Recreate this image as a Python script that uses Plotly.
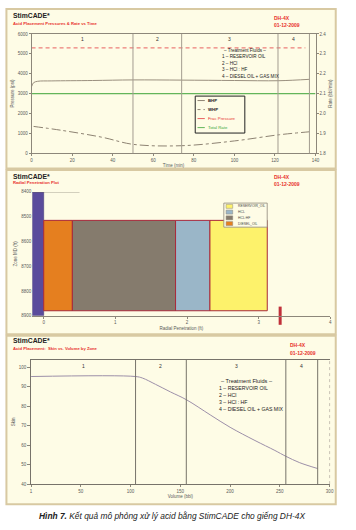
import plotly.graph_objects as go

W, H = 356, 530


def px(x):
    return x / W


def py(y):
    return 1 - y / H


# ---------------- Panel 1 data: pressures & rate vs time ----------------
zone_time_bounds = [50, 74, 121.5, 137]
zone_names = ["1", "2", "3", "4"]
bhp_time = [0, 1, 3, 10, 30, 50, 74, 100, 122, 137]
bhp_psi = [3350, 3550, 3620, 3640, 3660, 3690, 3680, 3660, 3650, 3720]
whp_time = [1, 15, 35, 50, 74, 100, 122, 137]
whp_psi = [1350, 1150, 800, 450, 380, 620, 930, 1080]
frac_time = [0, 135]
frac_psi = [5300, 5300]
rate_time = [0, 140]
rate_bpm = [2.1, 2.1]
time_ticks = [0, 20, 40, 60, 80, 100, 120, 140]
psi_ticks = [0, 1000, 2000, 3000, 4000, 5000, 6000]
rate_ticks = [1.8, 1.9, 2.0, 2.1, 2.2, 2.3, 2.4]

# ---------------- Panel 2 data: radial penetration ----------------
fluid_names = ["DIESEL_OIL", "HCL:HF", "HCL", "RESERVOIR_OIL"]
fluid_outer_ft = [0.40, 1.84, 2.32, 3.12]
fluid_colors = ["#e57f1f", "#857b6d", "#9ab6c8", "#fdf26b"]
zone_top_md = 8515
zone_bottom_md = 8880
wellbore_radius_ft = 0.16
wellbore_top_md = 8400
wellbore_bottom_md = 8900
top_line_ft = [-0.16, 0.5]
marker_ft = [3.3]
pen_ticks = [0, 1, 2, 3, 4]
md_ticks = [8400, 8500, 8600, 8700, 8800, 8900]

# ---------------- Panel 3 data: skin vs volume ----------------
zone_vol_bounds = [105, 156, 256, 288]
vol_bbl = [0, 105, 112, 125, 140, 156, 180, 200, 225, 245, 256, 270, 288]
skin = [95.3, 95.3, 94.5, 91.3, 87.4, 83.4, 75.6, 69.2, 62.4, 57.3, 54.3, 51.0, 48.0]
vol_ticks = [0, 50, 100, 150, 200, 250, 300]
vol_ticktext = ["1", "50", "100", "150", "200", "250", "300"]
skin_ticks = [40, 50, 60, 70, 80, 90, 100]

fluids_text = ["– Treatment Fluids –", "1 – RESERVOIR OIL", "2 – HCl",
               "3 – HCl : HF", "4 – DIESEL OIL + GAS MIX"]

RED = "#e8322c"
AXC = "#8d877a"
TXT = "#5a5a5a"
BG = "#fefce6"
BORDER = "#d8c9a2"
FONT = "Liberation Sans, Arial, sans-serif"

fig = go.Figure()

# Panel 1 traces
fig.add_trace(go.Scatter(x=frac_time, y=frac_psi, mode="lines",
                         line=dict(color="#e86060", width=1, dash="4px,3px"),
                         xaxis="x", yaxis="y", showlegend=False))
fig.add_trace(go.Scatter(x=rate_time, y=rate_bpm, mode="lines",
                         line=dict(color="#63b55a", width=1.2),
                         xaxis="x", yaxis="y2", showlegend=False))
fig.add_trace(go.Scatter(x=bhp_time, y=bhp_psi, mode="lines", line_shape="spline",
                         line=dict(color="#9a8f7e", width=1),
                         xaxis="x", yaxis="y", showlegend=False))
fig.add_trace(go.Scatter(x=whp_time, y=whp_psi, mode="lines", line_shape="spline",
                         line=dict(color="#8d8272", width=1, dash="dashdot"),
                         xaxis="x", yaxis="y", showlegend=False))

# Panel 2 traces
fig.add_trace(go.Bar(y=[(wellbore_top_md + wellbore_bottom_md) / 2],
                     x=[wellbore_radius_ft], base=[-wellbore_radius_ft],
                     width=[wellbore_bottom_md - wellbore_top_md], orientation="h",
                     marker=dict(color="#5a4b9c", line=dict(color="#3d3270", width=0.5)),
                     xaxis="x2", yaxis="y3", showlegend=False))
inner = 0
for name, outer, col in zip(fluid_names, fluid_outer_ft, fluid_colors):
    fig.add_trace(go.Bar(y=[(zone_top_md + zone_bottom_md) / 2], x=[outer - inner],
                         base=[inner], width=[zone_bottom_md - zone_top_md],
                         orientation="h", name=name,
                         marker=dict(color=col, line=dict(color="#a8283a", width=1)),
                         xaxis="x2", yaxis="y3", showlegend=False))
    inner = outer
fig.add_trace(go.Scatter(x=top_line_ft, y=[wellbore_top_md] * 2, mode="lines",
                         line=dict(color="#777066", width=0.8),
                         xaxis="x2", yaxis="y3", showlegend=False))
fig.add_trace(go.Scatter(x=marker_ft, y=[wellbore_bottom_md], mode="markers",
                         cliponaxis=False,
                         marker=dict(symbol="line-ns", size=13,
                                     line=dict(color="#c0303a", width=3)),
                         xaxis="x2", yaxis="y3", showlegend=False))

# Panel 3 traces
fig.add_trace(go.Scatter(x=vol_bbl, y=skin, mode="lines", line_shape="spline",
                         line=dict(color="#9c8fa8", width=1),
                         xaxis="x3", yaxis="y4", showlegend=False))

tickf = dict(family=FONT, size=4.5, color=TXT)
titlef = dict(family=FONT, size=4.5, color=TXT)

fig.update_layout(
    width=W, height=H, margin=dict(l=0, r=0, t=0, b=0),
    paper_bgcolor="white", plot_bgcolor="rgba(0,0,0,0)",
    font=dict(family=FONT, color=TXT), barmode="overlay", showlegend=False,
    xaxis=dict(domain=[px(31), px(319)], range=[0, 140], anchor="y",
               tickvals=time_ticks, ticks="outside", ticklen=2, tickcolor=AXC,
               showline=True, linecolor=AXC, linewidth=1, mirror=True,
               showgrid=False, zeroline=False, tickfont=tickf,
               title=dict(text="Time (min)", font=titlef, standoff=2)),
    yaxis=dict(domain=[py(152.7), py(32.3)], range=[0, 6000], anchor="x",
               tickvals=psi_ticks, ticks="outside", ticklen=2, tickcolor=AXC,
               showline=True, linecolor=AXC, linewidth=1,
               showgrid=False, zeroline=False, tickfont=tickf,
               title=dict(text="Pressure (psi)", font=titlef, standoff=3)),
    yaxis2=dict(overlaying="y", side="right", anchor="x", range=[1.8, 2.4],
                tickvals=rate_ticks, tickformat=".1f", ticks="outside", ticklen=2,
                tickcolor=AXC, showline=True, linecolor=AXC, linewidth=1,
                showgrid=False, zeroline=False, tickfont=tickf,
                title=dict(text="Rate (bbl/min)", font=titlef, standoff=3)),
    xaxis2=dict(domain=[px(31.7), px(334)], range=[-0.16, 4.0], anchor="y3",
                tickvals=pen_ticks, ticks="outside", ticklen=2, tickcolor=AXC,
                showline=True, linecolor=AXC, linewidth=1,
                showgrid=False, zeroline=False, tickfont=tickf,
                title=dict(text="Radial Penetration (ft)", font=titlef, standoff=2)),
    yaxis3=dict(domain=[py(316.7), py(191.7)], range=[8900, 8400], anchor="x2",
                tickvals=md_ticks, ticks="", showline=False,
                showgrid=False, zeroline=False, tickfont=tickf,
                title=dict(text="Zone MD (ft)", font=titlef, standoff=3)),
    xaxis3=dict(domain=[px(30.5), px(333.3)], range=[0, 300], anchor="y4",
                tickvals=vol_ticks, ticktext=vol_ticktext, ticks="outside",
                ticklen=2, tickcolor=AXC, showline=True, linecolor="#77736a",
                linewidth=1, mirror=True, showgrid=False, zeroline=False,
                tickfont=tickf,
                title=dict(text="Volume (bbl)", font=titlef, standoff=2)),
    yaxis4=dict(domain=[py(486.7), py(361)], range=[40, 104], anchor="x3",
                tickvals=skin_ticks, ticks="outside", ticklen=3, tickcolor=AXC,
                showline=True, linecolor="#77736a", linewidth=1,
                showgrid=False, zeroline=False, tickfont=tickf,
                title=dict(text="Skin", font=titlef, standoff=3)),
)

shapes = []
# panel frames
for top, bot in [(7, 168), (169.5, 335.5), (337, 507)]:
    shapes.append(dict(type="rect", xref="paper", yref="paper", layer="below",
                       x0=px(5.5), x1=px(339.5), y0=py(bot), y1=py(top),
                       fillcolor=BG, line=dict(color=BORDER, width=2)))
# zone separators panel 1
for b in zone_time_bounds:
    shapes.append(dict(type="line", xref="x", yref="y domain", x0=b, x1=b, y0=0, y1=1,
                       line=dict(color="#a39c90", width=1)))
# zone separators panel 3
for b in zone_vol_bounds:
    shapes.append(dict(type="line", xref="x3", yref="y4 domain", x0=b, x1=b, y0=0, y1=1,
                       line=dict(color="#77736a", width=1)))
# faint right edge panel 3
shapes.append(dict(type="line", xref="x3 domain", yref="y4 domain", x0=1, x1=1, y0=0, y1=1,
                   line=dict(color="#c9c3b5", width=1, dash="dot")))

annotations = []


def txt(x, y, text, size, color=TXT, xanchor="left", yanchor="middle", bold=False,
        family=FONT, xref="paper", yref="paper"):
    if bold:
        text = "<b>" + text + "</b>"
    annotations.append(dict(x=x, y=y, xref=xref, yref=yref, text=text, showarrow=False,
                            xanchor=xanchor, yanchor=yanchor,
                            font=dict(family=family, size=size, color=color)))


# headers
headers = [(14, 22, "Acid Placement Pressures & Rate vs Time", 16.5, 23.5),
           (176, 182, "Radial Penetration Plot", 176.5, 184),
           (342, 350, "Acid Placement:  Skin vs. Volume by Zone", 346.5, 354)]
for ty, sy, sub, dy1, dy2 in headers:
    txt(px(10), py(ty), "StimCADE*", 6.8, color="#222222", bold=True)
    txt(px(10), py(sy), sub, 4.2, color=RED, bold=True)
    hx = 275 if ty < 300 else 291
    txt(px(hx), py(dy1), "DH-4X", 5, color=RED, bold=True)
    txt(px(hx), py(dy2), "01-12-2009", 5, color=RED, bold=True)

# zone labels panel 1 and 3
prev = 0
for b, n in zip(zone_time_bounds, zone_names):
    txt((prev + b) / 2, py(37.5), n, 5, color="#333333", xanchor="center", xref="x")
    prev = b
prev = 0
for b, n in zip(zone_vol_bounds, zone_names):
    txt((prev + b) / 2, py(367.5), n, 5, color="#333333", xanchor="center", xref="x3")
    prev = b

# treatment fluids text
for i, line in enumerate(fluids_text):
    txt(px(222 if i else 224), py(49 + 6.5 * i), line, 4.6, color="#222222")
for i, line in enumerate(fluids_text):
    txt(px(219 if i else 221), py(382.5 + 7 * i), line, 5.2 if i else 5.6, color="#222222")

# panel 1 manual legend
shapes.append(dict(type="rect", xref="paper", yref="paper", x0=px(197), x1=px(247.3),
                   y0=py(132.3), y1=py(95), fillcolor=BG, line=dict(color="#222222", width=1)))
leg1 = [("BHP", "#8d8272", "solid", "#222222", True),
        ("WHP", "#8d8272", "dashdot", "#222222", True),
        ("Frac Pressure", "#e86060", "dash", RED, False),
        ("Total Rate", "#63b55a", "solid", "#3aa83a", False)]
for i, (nm, col, dash, tcol, b) in enumerate(leg1):
    yy = 99.5 + 9.1 * i
    shapes.append(dict(type="line", xref="paper", yref="paper", x0=px(199.3), x1=px(206.7),
                       y0=py(yy), y1=py(yy), line=dict(color=col, width=1,
                                                       dash="dot" if dash == "dashdot" else dash)))
    txt(px(208.3), py(yy), nm, 4.3, color=tcol, bold=b)

# panel 2 manual legend
shapes.append(dict(type="rect", xref="paper", yref="paper", x0=px(226), x1=px(270),
                   y0=py(227.3), y1=py(203), fillcolor=BG, line=dict(color="#8d877a", width=0.8)))
for i, (nm, col) in enumerate(zip(fluid_names[::-1], fluid_colors[::-1])):
    yy = 206.3 + 5.8 * i
    shapes.append(dict(type="rect", xref="paper", yref="paper", x0=px(228.3), x1=px(235),
                       y0=py(yy + 2), y1=py(yy - 2), fillcolor=col,
                       line=dict(color="#8d877a", width=0.5)))
    txt(px(238.3), py(yy), nm, 3.4, color="#444444")

# caption
txt(px(173), py(519), "<b><i>Hình 7.</i></b><i> Kết quả mô phỏng xử lý acid bằng StimCADE cho giếng DH-4X</i>",
    8.4, color="#222222", xanchor="center",
    family="Liberation Sans Narrow, Liberation Sans, Arial, sans-serif")

fig.update_layout(shapes=shapes, annotations=annotations)
fig.write_html("out.html")
